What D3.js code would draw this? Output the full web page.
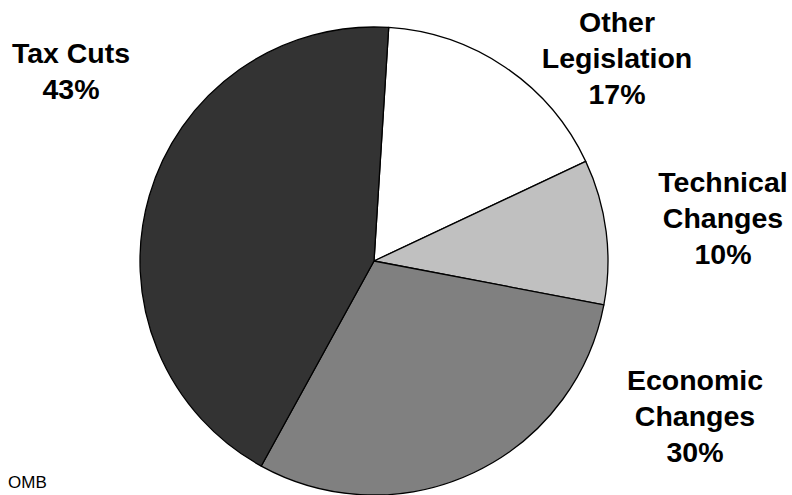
<!DOCTYPE html>
<html>
<head>
<meta charset="utf-8">
<script src="https://cdn.jsdelivr.net/npm/d3@7"></script>
<style>
  html, body { margin: 0; padding: 0; background: #fff; }
  svg { display: block; }
</style>
</head>
<body>
<svg id="chart" width="792" height="495"></svg>
<script>
// ---- data ----
const categories = ["Other Legislation", "Technical Changes", "Economic Changes", "Tax Cuts"];
const values = [17, 10, 30, 43];
const labelLines = [["Other", "Legislation"], ["Technical", "Changes"], ["Economic", "Changes"], ["Tax Cuts"]];
const colors = ["#ffffff", "#c0c0c0", "#808080", "#333333"];
const sourceNote = "OMB";

// ---- layout ----
const W = 792, H = 495;
const cx = 374, cy = 261, R = 234;
const startDeg = 3.6;
// label anchor (center x, first baseline y) per slice, same order as categories
const labelAnchors = [[617, 32], [723, 192], [695, 390], [71, 63]];
const lineH = 36;

const svg = d3.select("#chart");
const g = svg.append("g").attr("transform", `translate(${cx},${cy})`);

const start = startDeg * Math.PI / 180;
const pie = d3.pie().sort(null).value(d => d.v)
  .startAngle(start).endAngle(start + 2 * Math.PI);
const arc = d3.arc().innerRadius(0).outerRadius(R);

const rows = categories.map((c, i) => ({ c, v: values[i], col: colors[i], lines: labelLines[i], pos: labelAnchors[i] }));

g.selectAll("path").data(pie(rows)).join("path")
  .attr("d", arc)
  .attr("fill", d => d.data.col)
  .attr("stroke", "#000")
  .attr("stroke-width", 1.3)
  .attr("stroke-linejoin", "round");

const fmt = d3.format(".0f");
rows.forEach(r => {
  const t = svg.append("text")
    .attr("text-anchor", "middle")
    .attr("font-family", "Liberation Sans, Arial, sans-serif")
    .attr("font-weight", "bold")
    .attr("font-size", 28.5)
    .attr("fill", "#000");
  const all = r.lines.concat([fmt(r.v) + "%"]);
  all.forEach((ln, k) => {
    t.append("tspan").attr("x", r.pos[0]).attr("y", r.pos[1] + k * lineH).text(ln);
  });
});

svg.append("text")
  .attr("x", 8).attr("y", 488)
  .attr("font-family", "Liberation Sans, Arial, sans-serif")
  .attr("font-size", 17)
  .attr("fill", "#000")
  .text(sourceNote);
</script>
</body>
</html>
